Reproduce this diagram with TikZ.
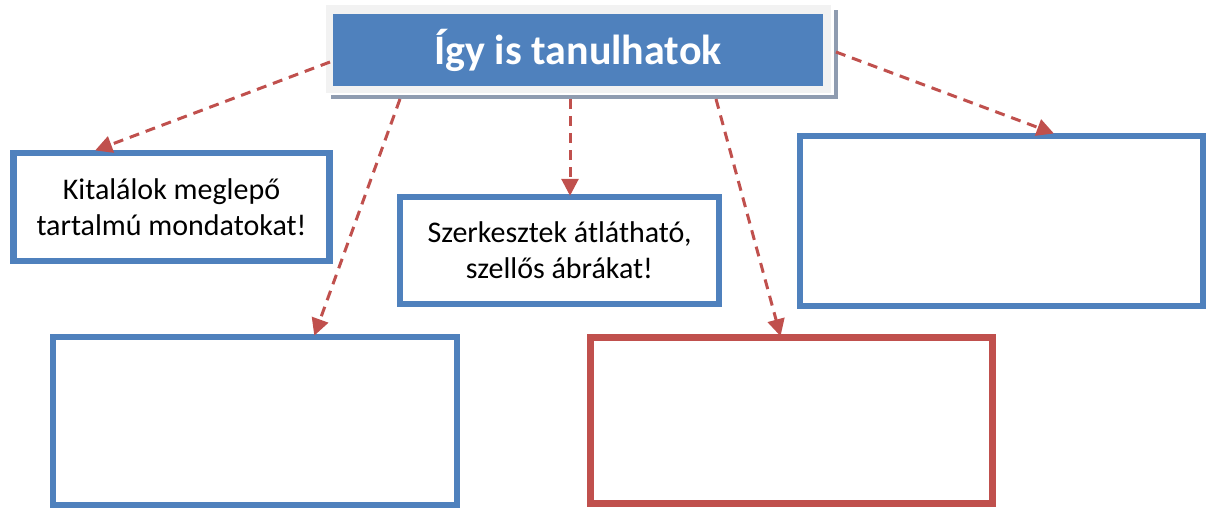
\documentclass[tikz,border=0pt]{standalone}
\usepackage{fontspec}
\setmainfont{Carlito}
\usetikzlibrary{arrows.meta}
\definecolor{bblue}{RGB}{79,129,189}
\definecolor{rred}{RGB}{192,80,77}
\definecolor{frame}{RGB}{242,242,242}
\definecolor{shadowc}{RGB}{143,156,176}
\tikzset{
  box/.style={draw=bblue, line width=6.5pt, fill=white, inner sep=0pt, align=center, font=\fontsize{30}{36}\selectfont},
  redbox/.style={box, draw=rred},
  link/.style={draw=rred, line width=3pt, dash pattern=on 10pt off 7pt, -{Triangle[length=17pt,width=17pt]}, shorten >=-2pt},
}
\begin{document}
\begin{tikzpicture}[x=1pt,y=-1pt]
\useasboundingbox (0,0) rectangle (1207,508);
\clip (0,0) rectangle (1207,508);
% title with frame and shadow
\fill[shadowc] (331,10) rectangle (838,99);
\fill[white] (327,6) rectangle (834,95);
\fill[frame] (326,5) rectangle (831,93);
\node[fill=bblue, minimum width=490pt, minimum height=72pt, inner sep=0pt, text=white, font=\fontsize{42}{46}\bfseries\selectfont] (title) at (578,50) {Így is tanulhatok};
% boxes
\node[box, minimum width=316pt, minimum height=108pt] (b1) at (171.5,207) {Kitalálok meglepő\\tartalmú mondatokat!};
\node[box, minimum width=319pt, minimum height=107pt] (b2) at (559.5,250.5) {Szerkesztek átlátható,\\szellős ábrákat!};
\node[box, minimum width=403pt, minimum height=170pt] (b3) at (1001.5,221) {};
\node[box, minimum width=404pt, minimum height=168pt] (b4) at (255,421) {};
\node[redbox, minimum width=402pt, minimum height=166pt] (b5) at (791.5,420.5) {};
% connectors
\coordinate (s1) at (330,62);
\coordinate (s2) at (400,99);
\coordinate (s3) at (570,99);
\coordinate (s4) at (716,99);
\coordinate (s5) at (836,52);
\draw[link] (s1) -- (b1.north west -| 97,0);
\draw[link] (s2) -- (b4.north west -| 315,0);
\draw[link] (s3) -- (b2.north west -| 570,0);
\draw[link] (s4) -- (b5.north west -| 780,0);
\draw[link] (s5) -- (b3.north west -| 1052,0);
\end{tikzpicture}
\end{document}
